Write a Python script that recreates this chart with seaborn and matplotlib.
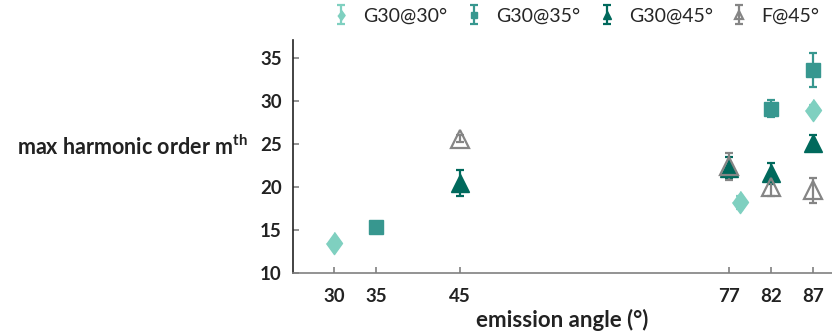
import matplotlib
matplotlib.use("Agg")
import matplotlib.pyplot as plt
import seaborn as sns

# ── Data ─────────────────────────────────────────────────────────────────────
G30_30_X = [30, 78.4, 87]
G30_30_Y = [13.5, 18.2, 29.0]
G30_30_ERR = [0.3, 0.8, 0.6]

G30_35_X = [35, 82, 87]
G30_35_Y = [15.3, 29.1, 33.6]
G30_35_ERR = [0.3, 1.0, 2.0]

G30_45_X = [45, 77, 82, 87]
G30_45_Y = [20.5, 22.2, 21.6, 25.1]
G30_45_ERR = [1.5, 1.3, 1.2, 0.9]

F_45_X = [45, 77, 82, 87]
F_45_Y = [25.6, 22.4, 20.0, 19.6]
F_45_ERR = [0.4, 1.6, 1.0, 1.5]

X_TICKS = [30, 35, 45, 77, 82, 87]
Y_TICKS = [10, 15, 20, 25, 30, 35]
LABELS = ["G30@30°", "G30@35°", "G30@45°", "F@45°"]

LIGHT = "#7fd0c0"
MID = "#37978f"
DARK = "#00695c"
GRAY = "#858585"

sns.set_theme(style="ticks")
plt.rcParams["font.family"] = ["Lato", "DejaVu Sans"]
plt.rcParams["mathtext.fontset"] = "custom"
plt.rcParams["mathtext.bf"] = "Lato:bold"
plt.rcParams["mathtext.rm"] = "Lato:bold"

fig = plt.figure(figsize=(8.32, 3.34), dpi=100)
ax = fig.add_axes([0.352, 0.183, 0.648, 0.697])

diamond = [(0, 1), (0.72, 0), (0, -1), (-0.72, 0)]
err_kw = dict(capsize=2.6, capthick=1.6, elinewidth=1.6, linestyle="none")

ax.errorbar(G30_30_X, G30_30_Y, yerr=G30_30_ERR, marker=diamond, ms=16,
            color=LIGHT, mec=LIGHT, label=LABELS[0], **err_kw)
ax.errorbar(G30_35_X, G30_35_Y, yerr=G30_35_ERR, marker="s", ms=10.5,
            color=MID, mec=MID, label=LABELS[1], **err_kw)
ax.errorbar(G30_45_X, G30_45_Y, yerr=G30_45_ERR, marker="^", ms=12.5,
            color=DARK, mec=DARK, label=LABELS[2], **err_kw)
ax.errorbar(F_45_X, F_45_Y, yerr=F_45_ERR, marker="^", ms=12.5,
            color=GRAY, mfc="none", mec=GRAY, mew=1.6, label=LABELS[3], **err_kw)

ax.set_xlim(25.1, 89.3)
ax.set_ylim(10, 37.1)
ax.set_xticks(X_TICKS)
ax.set_yticks(Y_TICKS)
ax.tick_params(axis="both", direction="in", length=4, width=1.2,
               color="#808080", labelsize=13.5, labelcolor="#222222")
ax.tick_params(axis="x", pad=11)
ax.tick_params(axis="y", pad=8)
for lab in ax.get_xticklabels() + ax.get_yticklabels():
    lab.set_fontweight("bold")

sns.despine(ax=ax)
ax.spines["left"].set_color("#222222")
ax.spines["left"].set_linewidth(1.2)
ax.spines["bottom"].set_color("#808080")
ax.spines["bottom"].set_linewidth(1.2)

ax.set_xlabel("emission angle (°)", fontsize=16, fontweight="bold",
              color="#222222", labelpad=3)
ax.set_ylabel(r"max harmonic order m$^{\mathbf{th}}$", fontsize=15.5,
              fontweight="bold", color="#222222", rotation=0,
              ha="right", va="center")
ax.yaxis.set_label_coords(-0.083, 0.54)

handles, labels = ax.get_legend_handles_labels()
ax.legend(handles, labels, loc="lower center", bbox_to_anchor=(0.525, 1.0),
          ncol=4, frameon=False, fontsize=14, handlelength=0.9,
          columnspacing=0.9, handletextpad=0.7, markerscale=0.45,
          borderaxespad=0.4)

fig.savefig("out.png", dpi=100)
